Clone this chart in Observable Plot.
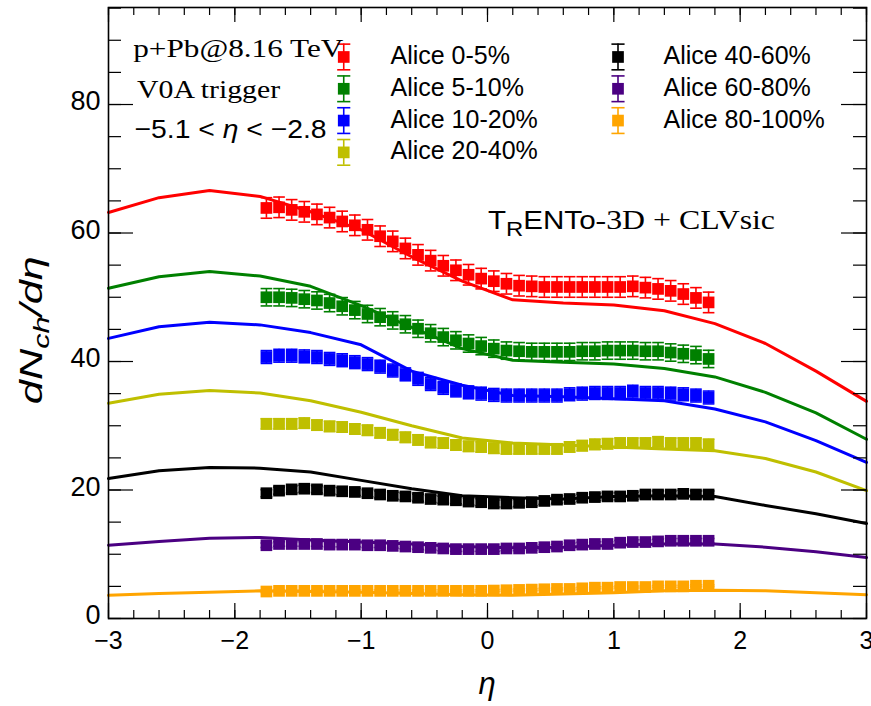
<!DOCTYPE html>
<html>
<head>
<meta charset="utf-8">
<script src="https://cdn.jsdelivr.net/npm/d3@7"></script>
<script src="https://cdn.jsdelivr.net/npm/@observablehq/plot@0.6"></script>
<style>
  html, body { margin: 0; padding: 0; background: #fff; }
  #chart svg { display: block; }
</style>
</head>
<body>
<div id="chart"></div>
<script>
// ---------- data ----------
const centralities = ["0-5%", "5-10%", "10-20%", "20-40%", "40-60%", "60-80%", "80-100%"];
const seriesColors = ["#ff0000", "#008000", "#0000ff", "#bfbf00", "#000000", "#4b0082", "#ffa500"];

// ALICE measurement points (eta bin centres)
const etaData = [-1.75, -1.65, -1.55, -1.45, -1.35, -1.25, -1.15, -1.05, -0.95, -0.85, -0.75, -0.65,
                 -0.55, -0.45, -0.35, -0.25, -0.15, -0.05, 0.05, 0.15, 0.25, 0.35, 0.45, 0.55,
                 0.65, 0.75, 0.85, 0.95, 1.05, 1.15, 1.25, 1.35, 1.45, 1.55, 1.65, 1.75];
const alice0_5 = [63.9, 64.0, 63.6, 63.3, 62.9, 62.4, 61.8, 61.2, 60.5, 59.5, 58.7, 57.6,
                  56.6, 55.7, 54.9, 54.2, 53.5, 52.9, 52.5, 52.1, 51.8, 51.7, 51.6, 51.6,
                  51.6, 51.6, 51.6, 51.6, 51.6, 51.7, 51.5, 51.3, 51.0, 50.5, 49.9, 49.2];
const alice5_10 = [50.0, 50.0, 49.9, 49.7, 49.5, 49.1, 48.6, 48.0, 47.4, 46.9, 46.4, 45.8,
                   45.1, 44.4, 43.8, 43.3, 42.8, 42.4, 42.0, 41.7, 41.6, 41.5, 41.5, 41.5,
                   41.5, 41.6, 41.6, 41.7, 41.7, 41.7, 41.6, 41.6, 41.4, 41.2, 41.0, 40.4];
const alice10_20 = [40.7, 40.9, 40.9, 40.8, 40.7, 40.4, 40.2, 39.9, 39.6, 39.2, 38.6, 38.0,
                    37.3, 36.5, 35.9, 35.5, 35.2, 35.0, 34.8, 34.7, 34.7, 34.7, 34.7, 34.7,
                    34.9, 35.0, 35.1, 35.1, 35.1, 35.3, 35.1, 35.1, 35.0, 34.9, 34.7, 34.4];
const alice20_40 = [30.3, 30.3, 30.3, 30.4, 30.1, 29.9, 29.8, 29.5, 29.3, 28.9, 28.6, 28.2,
                    27.8, 27.4, 27.3, 27.0, 26.8, 26.7, 26.5, 26.4, 26.4, 26.4, 26.4, 26.4,
                    26.7, 26.9, 27.1, 27.2, 27.3, 27.3, 27.3, 27.5, 27.3, 27.3, 27.3, 27.1];
const alice40_60 = [19.5, 19.9, 20.1, 20.2, 20.1, 19.9, 19.8, 19.7, 19.5, 19.3, 19.1, 19.0,
                    18.8, 18.6, 18.5, 18.4, 18.2, 18.1, 17.9, 17.9, 18.0, 18.1, 18.3, 18.5,
                    18.6, 18.8, 18.9, 19.0, 19.0, 19.1, 19.3, 19.3, 19.3, 19.4, 19.3, 19.3];
const alice60_80 = [11.4, 11.6, 11.6, 11.6, 11.6, 11.5, 11.5, 11.5, 11.4, 11.4, 11.3, 11.2,
                    11.1, 11.0, 10.9, 10.8, 10.8, 10.8, 10.8, 10.9, 10.9, 11.0, 11.1, 11.2,
                    11.4, 11.5, 11.6, 11.6, 11.8, 11.9, 11.9, 12.0, 12.1, 12.1, 12.1, 12.1];
const alice80_100 = [4.2, 4.3, 4.3, 4.3, 4.3, 4.3, 4.3, 4.3, 4.3, 4.3, 4.3, 4.3,
                     4.3, 4.3, 4.3, 4.3, 4.3, 4.3, 4.35, 4.4, 4.45, 4.5, 4.55, 4.6,
                     4.6, 4.7, 4.8, 4.8, 4.9, 4.9, 4.9, 5.0, 5.0, 5.0, 5.1, 5.1];
// error bar half-widths per centrality class
const aliceErrors = [1.6, 1.35, 1.0, 0.8, 0.55, 0.35, 0.15];

// TRENTo-3D + CLVsic model curves
const etaModel = [-3.0, -2.6, -2.2, -1.8, -1.4, -1.0, -0.6, -0.2, 0.2, 0.6, 1.0, 1.4, 1.8, 2.2, 2.6, 3.0];
const model0_5    = [63.2, 65.5, 66.6, 65.7, 63.3, 60.5, 56.3, 52.5, 49.6, 49.1, 48.8, 47.9, 45.9, 42.8, 38.5, 33.8];
const model5_10   = [51.4, 53.2, 54.0, 53.3, 51.7, 48.7, 45.3, 42.0, 40.2, 39.9, 39.6, 38.9, 37.6, 35.2, 32.0, 27.9];
const model10_20  = [43.6, 45.4, 46.1, 45.7, 44.5, 42.6, 38.5, 36.3, 34.7, 34.5, 34.2, 33.9, 32.6, 30.6, 27.7, 24.3];
const model20_40  = [33.5, 34.9, 35.5, 35.1, 33.9, 32.1, 30.0, 28.1, 27.3, 27.0, 26.7, 26.4, 26.1, 24.9, 22.8, 19.9];
const model40_60  = [21.8, 23.0, 23.5, 23.4, 22.8, 21.5, 20.2, 19.1, 18.8, 18.6, 19.0, 19.1, 19.0, 17.6, 16.3, 14.8];
const model60_80  = [11.4, 12.0, 12.5, 12.6, 12.2, 11.9, 11.6, 11.2, 11.0, 11.1, 11.4, 11.6, 11.6, 11.1, 10.4, 9.5];
const model80_100 = [3.6, 3.9, 4.1, 4.3, 4.2, 4.1, 3.9, 3.7, 3.6, 3.8, 4.0, 4.3, 4.4, 4.3, 4.0, 3.7];

const xTickLabels = [-3, -2, -1, 0, 1, 2, 3];
const yTickLabels = [0, 20, 40, 60, 80];

// ---------- assemble ----------
const aliceSeries = [alice0_5, alice5_10, alice10_20, alice20_40, alice40_60, alice60_80, alice80_100];
const modelSeries = [model0_5, model5_10, model10_20, model20_40, model40_60, model60_80, model80_100];

const points = centralities.flatMap((c, i) =>
  aliceSeries[i].map((v, j) => ({c, x: etaData[j], y: v, e: aliceErrors[i]})));
const curves = centralities.flatMap((c, i) =>
  modelSeries[i].map((v, j) => ({c, x: etaModel[j], y: v})));

// legend layout (two columns: 4 + 3 entries)
const legendItems = centralities.map((c, i) => ({c, col: i < 4 ? 0 : 1, row: i < 4 ? i : i - 4}));
const legMarkX = [-1.138, 1.033], legTextX = [-0.768, 1.393];
const legTop = 87.4, legStep = 4.95, legErr = 2.0, capW = 0.046, legCapW = 0.052;
const lx = d => legMarkX[d.col], ly = d => legTop - d.row * legStep;

// frame geometry
const W = 871, H = 706, mL = 108, mR = 5, mT = 7, mB = 88;
const fW = W - mL - mR, fH = H - mT - mB;
const xMinor = d3.range(-3, 3.0001, 0.2).map(v => +v.toFixed(2));
const yMinor = d3.range(0, 95.01, 5);
const xMajLen = 15, xMinLen = 8, yMajLen = 25, yMinLen = 13;

const plot = Plot.plot({
  width: W, height: H,
  marginLeft: mL, marginRight: mR, marginTop: mT, marginBottom: mB,
  style: {fontFamily: "'Liberation Sans', Arial, sans-serif", fontSize: "25px", background: "white", color: "black", overflow: "visible"},
  x: {domain: [-3, 3], label: null},
  y: {domain: [0, 95.1], label: null},
  color: {domain: centralities, range: seriesColors},
  marks: [
    // model curves
    Plot.line(curves, {x: "x", y: "y", z: "c", stroke: "c", strokeWidth: 3}),
    // error bars
    Plot.ruleX(points, {x: "x", y1: d => d.y - d.e, y2: d => d.y + d.e, stroke: "c", strokeWidth: 1.6}),
    Plot.link(points, {x1: d => d.x - capW, x2: d => d.x + capW, y1: d => d.y + d.e, y2: d => d.y + d.e, stroke: "c", strokeWidth: 1.6}),
    Plot.link(points, {x1: d => d.x - capW, x2: d => d.x + capW, y1: d => d.y - d.e, y2: d => d.y - d.e, stroke: "c", strokeWidth: 1.6}),
    // markers
    Plot.dot(points, {x: "x", y: "y", fill: "c", symbol: "square", r: 6.6, stroke: null}),

    // legend
    Plot.ruleX(legendItems, {x: lx, y1: d => ly(d) - legErr, y2: d => ly(d) + legErr, stroke: "c", strokeWidth: 1.6}),
    Plot.link(legendItems, {x1: d => lx(d) - legCapW, x2: d => lx(d) + legCapW, y1: d => ly(d) + legErr, y2: d => ly(d) + legErr, stroke: "c", strokeWidth: 1.6}),
    Plot.link(legendItems, {x1: d => lx(d) - legCapW, x2: d => lx(d) + legCapW, y1: d => ly(d) - legErr, y2: d => ly(d) - legErr, stroke: "c", strokeWidth: 1.6}),
    Plot.dot(legendItems, {x: lx, y: ly, fill: "c", symbol: "square", r: 6.6, stroke: null}),
    Plot.text(legendItems, {x: d => legTextX[d.col], y: d => ly(d) + 0.15, text: d => "Alice " + d.c, textAnchor: "start", fontSize: 25, fill: "black"}),

    // inward ticks on all four sides (ROOT style)
    Plot.tickX(xMinor, {x: d => d, insetTop: fH - xMinLen, stroke: "black", strokeWidth: 1.2}),
    Plot.tickX(xTickLabels, {x: d => d, insetTop: fH - xMajLen, stroke: "black", strokeWidth: 1.2}),
    Plot.tickX(xMinor, {x: d => d, insetBottom: fH - xMinLen, stroke: "black", strokeWidth: 1.2}),
    Plot.tickX(xTickLabels, {x: d => d, insetBottom: fH - xMajLen, stroke: "black", strokeWidth: 1.2}),
    Plot.tickY(yMinor, {y: d => d, insetRight: fW - yMinLen, stroke: "black", strokeWidth: 1.2}),
    Plot.tickY(yTickLabels, {y: d => d, insetRight: fW - yMajLen, stroke: "black", strokeWidth: 1.2}),
    Plot.tickY(yMinor, {y: d => d, insetLeft: fW - yMinLen, stroke: "black", strokeWidth: 1.2}),
    Plot.tickY(yTickLabels, {y: d => d, insetLeft: fW - yMajLen, stroke: "black", strokeWidth: 1.2}),
    Plot.frame({stroke: "black", strokeWidth: 1.6}),

    Plot.axisX({ticks: xTickLabels, tickSize: 0, tickPadding: 13, fontSize: 25, tickFormat: d3.format("d")}),
    Plot.axisY({ticks: yTickLabels, tickSize: 0, tickPadding: 8, fontSize: 27, dy: -3})
  ]
});

document.getElementById("chart").appendChild(plot);

// ---------- annotations (positioned through the plot's scales) ----------
const X = plot.scale("x"), Y = plot.scale("y");
const svg = d3.select(plot);
const serif = "'Liberation Serif', 'Times New Roman', serif";
const sans = "'Liberation Sans', Arial, sans-serif";

function note(x, y, family, size, len) {
  const t = svg.append("text")
    .attr("x", x).attr("y", y)
    .attr("text-anchor", "start")
    .attr("font-family", family).attr("font-size", size)
    .attr("fill", "black");
  if (len) t.attr("textLength", len).attr("lengthAdjust", "spacingAndGlyphs");
  return t;
}

note(X.apply(-2.80), Y.apply(87.3), serif, 26, 210).text("p+Pb@8.16 TeV");
note(X.apply(-2.77), Y.apply(80.9), serif, 26, 143).text("V0A trigger");
{
  const t = note(X.apply(-2.79), Y.apply(74.7), sans, 26, 192);
  t.append("tspan").text("\u22125.1 < ");
  t.append("tspan").attr("font-style", "italic").text("\u03B7");
  t.append("tspan").text(" < \u22122.8");
}
{
  const t = note(X.apply(0.008), Y.apply(60.5), sans, 26, 287);
  t.append("tspan").text("T");
  t.append("tspan").attr("font-size", 21).attr("dy", 7).text("R");
  t.append("tspan").attr("dy", -7).text("ENTo");
  t.append("tspan").attr("font-family", serif).attr("font-size", 28).text("-3D + CLVsic");
}
// y axis title
{
  const t = svg.append("text")
    .attr("transform", `translate(42, ${(Y.apply(44.8))}) rotate(-90)`)
    .attr("text-anchor", "middle")
    .attr("font-family", sans).attr("font-size", 31).attr("font-style", "italic")
    .attr("textLength", 148).attr("lengthAdjust", "spacingAndGlyphs")
    .attr("fill", "black");
  t.append("tspan").text("dN");
  t.append("tspan").attr("font-size", 22).attr("dy", 7).text("ch");
  t.append("tspan").attr("dy", -7).text("/d\u03B7");
}
// x axis title
svg.append("text")
  .attr("x", X.apply(0)).attr("y", 694)
  .attr("text-anchor", "middle")
  .attr("font-family", sans).attr("font-size", 31).attr("font-style", "italic")
  .attr("fill", "black")
  .text("\u03B7");
</script>
</body>
</html>
